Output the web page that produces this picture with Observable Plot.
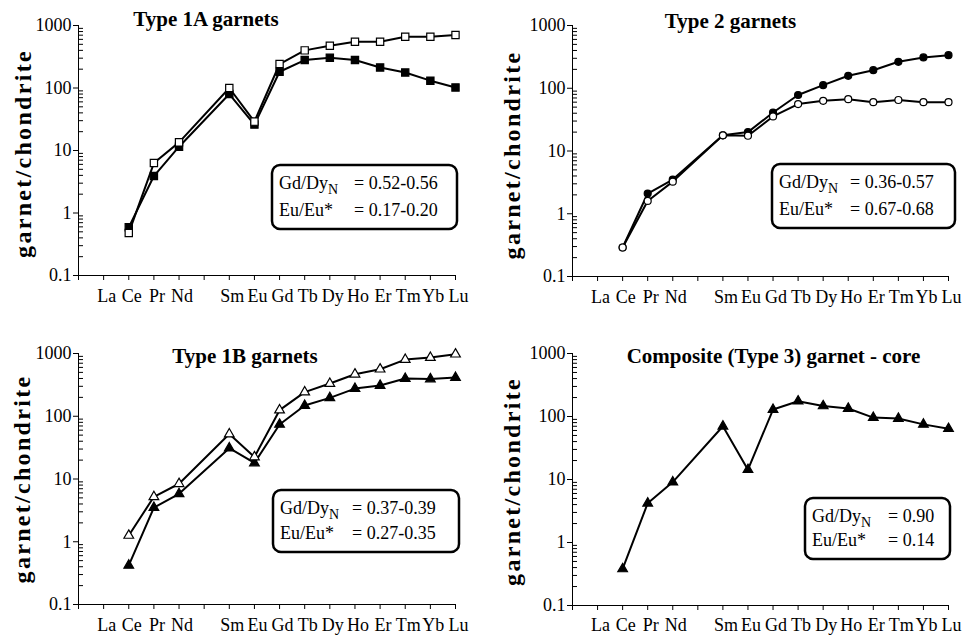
<!DOCTYPE html>
<html><head><meta charset="utf-8">
<script src="https://cdn.jsdelivr.net/npm/d3@7"></script>
<script src="https://cdn.jsdelivr.net/npm/@observablehq/plot@0.6"></script>
<style>
body{margin:0;background:#fff;}
#wrap{position:relative;width:965px;height:639px;overflow:hidden;background:#fff;}
.panel{position:absolute;}
.panel svg{overflow:visible;}
</style></head><body><div id="wrap"></div>
<script>
// x-axis tick labels (position 0 = axis origin, 5 = Pm, both unlabeled)
const tickLabels = ["", "La", "Ce", "Pr", "Nd", "", "Sm", "Eu", "Gd", "Tb", "Dy", "Ho", "Er", "Tm", "Yb", "Lu"];
// elements that carry data
const plotted = ["Ce", "Pr", "Nd", "Sm", "Eu", "Gd", "Tb", "Dy", "Ho", "Er", "Tm", "Yb", "Lu"];
// y tick labels
const yTicks = [0.1, 1, 10, 100, 1000];
const yTickLabels = ["0.1", "1", "10", "100", "1000"];

// Type 1A garnets
const type1A_filled = [0.59, 3.9, 11.5, 80, 26, 182, 280, 305, 280, 213, 177, 131, 102];
const type1A_open   = [0.48, 6.3, 13.5, 100, 29, 242, 400, 475, 550, 550, 660, 660, 705];
// Type 2 garnets
const type2_filled = [0.29, 2.1, 3.5, 17.8, 20, 41, 78, 112, 158, 194, 264, 310, 337];
const type2_open   = [0.29, 1.6, 3.25, 17.8, 17.5, 35.5, 56, 63, 67, 60, 65, 60, 60];
// Type 1B garnets
const type1B_filled = [0.42, 3.5, 5.8, 31, 18, 74, 148, 196, 276, 309, 399, 392, 414];
const type1B_open   = [1.26, 5.2, 8.4, 52, 22.4, 125, 242, 332, 467, 562, 800, 860, 975];
// Composite (Type 3) garnet - core
const type3_core = [0.38, 4.2, 9.1, 70, 14.3, 129, 175, 147, 134, 96, 93, 75, 64];

// annotation texts
const ratiosGdDy = ["= 0.52-0.56", "= 0.36-0.57", "= 0.37-0.39", "= 0.90"];
const ratiosEu   = ["= 0.17-0.20", "= 0.67-0.68", "= 0.27-0.35", "= 0.14"];
const titles = ["Type 1A garnets", "Type 2 garnets", "Type 1B garnets", "Composite (Type 3) garnet - core"];
const yLabel = "garnet/chondrite";

const FONT = "'Liberation Serif', 'Times New Roman', serif";

function table(vals) {
  return plotted.map((el, i) => ({x: tickLabels.indexOf(el), y: vals[i]}));
}
const minor = [];
for (const d of [0.1, 1, 10, 100]) for (let k = 2; k <= 9; k++) minor.push(d * k);
const minorSymbol = {draw(ctx) { ctx.moveTo(0, 0); ctx.lineTo(4.5, 0); }};

const panels = [
  {left: 0, top: 0, width: 482, height: 320, ml: 78, mr: 27, mt: 25, mb: 45,
   titleDx: -61, titleDy: -6, ylDx: -55, ylDy: 3, xlDy: 21,
   box: [272, 165, 457, 229], eqX: 82,
   series: [{v: type1A_filled, symbol: "square", fill: "black", r: 4.1}, {v: type1A_open, symbol: "square", fill: "white", r: 4.1}]},
  {left: 480, top: 0, width: 485, height: 320, ml: 92, mr: 17, mt: 25, mb: 44,
   titleDx: -30, titleDy: -4, ylDx: -60, ylDy: 4, xlDy: 20.5,
   box: [292, 164, 475, 228], eqX: 78,
   series: [{v: type2_filled, symbol: "circle", fill: "black", r: 3.5}, {v: type2_open, symbol: "circle", fill: "white", r: 3.5}]},
  {left: 0, top: 320, width: 482, height: 319, ml: 78, mr: 27, mt: 33, mb: 35,
   titleDx: -22, titleDy: 2.6, ylDx: -56, ylDy: 0, xlDy: 21,
   box: [273, 170, 459, 232], eqX: 79,
   series: [{v: type1B_filled, symbol: "triangle", fill: "black", r: 3.6}, {v: type1B_open, symbol: "triangle", fill: "white", r: 3.6}]},
  {left: 480, top: 320, width: 485, height: 319, ml: 92, mr: 17, mt: 33, mb: 34,
   titleDx: 13, titleDy: 2.6, ylDx: -60, ylDy: 2, xlDy: 20,
   box: [325, 178, 470, 239], eqX: 83,
   series: [{v: type3_core, symbol: "triangle", fill: "black", r: 3.6}]}
];

const wrap = document.getElementById("wrap");
panels.forEach((p, pi) => {
  const marks = [];
  // minor y ticks pointing inward
  marks.push(Plot.dot(minor, {x: 0, y: d => d, symbol: minorSymbol, r: 1, fill: "none", stroke: "black", strokeWidth: 1}));
  // x tick labels
  marks.push(Plot.text(tickLabels.map((t, i) => ({i, t})).filter(d => d.t), {
    x: "i", text: "t", frameAnchor: "bottom", lineAnchor: "middle", textAnchor: "middle", dy: p.xlDy, dx: 3,
    fontSize: 18, fontFamily: FONT, fill: "black"}));
  // series
  for (const s of p.series) {
    marks.push(Plot.line(table(s.v), {x: "x", y: "y", stroke: "black", strokeWidth: 2}));
  }
  for (const s of p.series) {
    marks.push(Plot.dot(table(s.v), {x: "x", y: "y", symbol: s.symbol, r: s.r, fill: s.fill, stroke: "black", strokeWidth: 1.2}));
  }
  // title
  marks.push(Plot.text([titles[pi]], {text: d => d, frameAnchor: "top", lineAnchor: "middle", textAnchor: "middle",
    dx: p.titleDx, dy: p.titleDy, fontSize: 21, fontWeight: "bold", fontFamily: FONT, fill: "black"}));
  // y label
  marks.push(Plot.text([yLabel], {text: d => d, frameAnchor: "left", lineAnchor: "middle", textAnchor: "middle", rotate: -90,
    dx: p.ylDx, dy: p.ylDy, fontSize: 24, fontWeight: "bold", fontFamily: FONT, fill: "black"}));
  // annotation box
  marks.push(() => {
    const [x0, y0, x1, y1] = p.box;
    const g = d3.create("svg:g").attr("font-size", 18).attr("fill", "black").attr("text-anchor", "start");
    g.append("rect").attr("x", x0).attr("y", y0).attr("width", x1 - x0).attr("height", y1 - y0)
      .attr("rx", 8).attr("ry", 8).attr("fill", "white").attr("stroke", "black").attr("stroke-width", 2.5);
    const t1 = g.append("text").attr("x", x0 + 7).attr("y", y0 + 24);
    t1.append("tspan").text("Gd/Dy");
    t1.append("tspan").attr("dy", 5).attr("font-size", 14).text("N");
    g.append("text").attr("x", x0 + p.eqX).attr("y", y0 + 24).text(ratiosGdDy[pi]);
    g.append("text").attr("x", x0 + 7).attr("y", y1 - 13).text("Eu/Eu*");
    g.append("text").attr("x", x0 + p.eqX).attr("y", y1 - 13).text(ratiosEu[pi]);
    return g.node();
  });

  const chart = Plot.plot({
    width: p.width, height: p.height,
    marginLeft: p.ml, marginRight: p.mr, marginTop: p.mt, marginBottom: p.mb,
    style: {fontSize: "18px", color: "black", background: "transparent", overflow: "visible"},
    x: {domain: [0, 15], ticks: d3.range(16), tickFormat: () => "", tickSize: 5, tickPadding: 2, line: true, label: null},
    y: {type: "log", domain: [0.1, 1000], ticks: yTicks, tickFormat: d => yTickLabels[yTicks.indexOf(d)] ?? "",
        tickSize: 5, tickPadding: 2, line: true, label: null},
    marks
  });
  chart.setAttribute("font-family", FONT);
  chart.style.setProperty("font-family", FONT, "important");
  chart.querySelectorAll("text").forEach(t => {
    t.setAttribute("font-family", FONT);
    t.style.setProperty("font-family", FONT, "important");
    if (t.textContent === yLabel) t.setAttribute("letter-spacing", "2.3");
  });
  const div = document.createElement("div");
  div.className = "panel";
  div.style.left = p.left + "px";
  div.style.top = p.top + "px";
  div.appendChild(chart);
  wrap.appendChild(div);
});
</script></body></html>
